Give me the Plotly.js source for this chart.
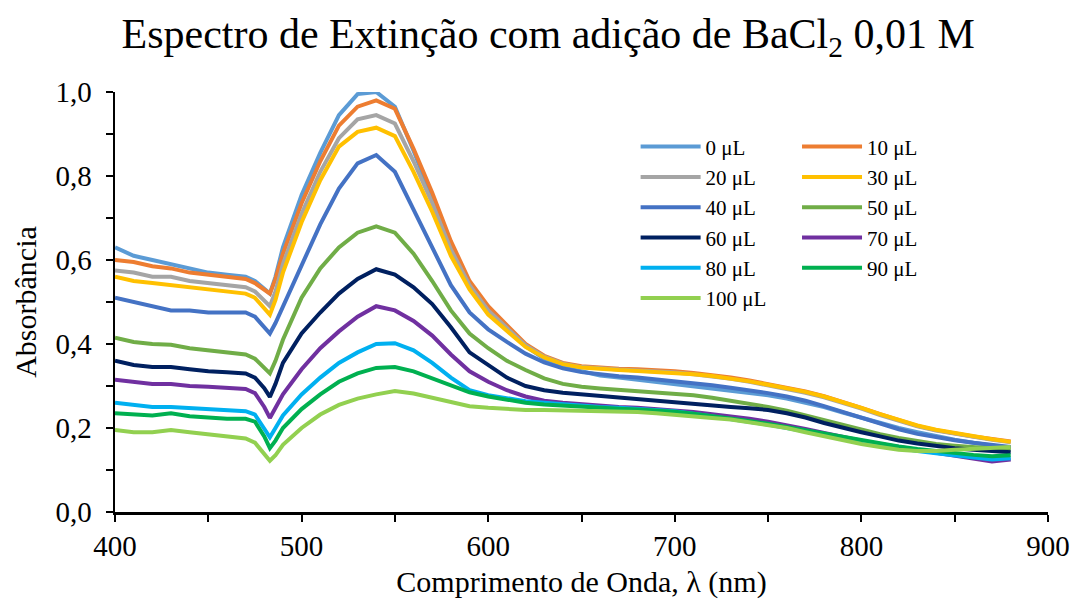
<!DOCTYPE html>
<html>
<head>
<meta charset="utf-8">
<script src="https://cdn.plot.ly/plotly-3.0.1.min.js"></script>
<style>html,body{margin:0;padding:0;background:#fff}#chart{width:1077px;height:605px}</style>
</head>
<body>
<div id="chart"></div>
<script>
// Wavelength (nm)
const wavelength = [400,410,420,430,440,450,460,470,475,480,483,486,490,500,510,520,530,540,550,560,570,580,590,600,610,620,630,640,650,660,670,680,690,700,710,720,730,740,750,760,770,780,790,800,810,820,830,840,850,860,870,880];

const seriesNames = ["0 μL","10 μL","20 μL","30 μL","40 μL","50 μL","60 μL","70 μL","80 μL","90 μL","100 μL"];

const abs0 = [0.63,0.61,0.60,0.59,0.58,0.57,0.565,0.56, 0.55,0.53,0.52,0.56, 0.63,0.755,0.855,0.945,0.995,1.0,0.965,0.86,0.75,0.635,0.545, 0.48,0.435,0.395,0.365,0.345,0.335,0.325,0.32,0.315,0.31,0.305,0.30,0.295,0.29,0.285,0.278,0.27,0.26,0.25,0.237,0.224,0.212,0.2,0.19,0.18,0.172,0.165,0.158,0.152];
const abs10 = [0.60,0.595,0.585,0.58,0.57,0.565,0.56,0.555, 0.545,0.53,0.52,0.555, 0.615,0.735,0.835,0.92,0.965,0.98,0.96,0.865,0.76,0.645,0.55, 0.49,0.445,0.40,0.372,0.355,0.347,0.343,0.341,0.34,0.338,0.335,0.331,0.326,0.32,0.313,0.305,0.296,0.287,0.276,0.263,0.248,0.233,0.218,0.205,0.195,0.187,0.18,0.174,0.168];
const abs20 = [0.575,0.57,0.56,0.56,0.55,0.545,0.54,0.535, 0.525,0.505,0.49,0.525, 0.59,0.71,0.81,0.89,0.935,0.945,0.925,0.835,0.735,0.625,0.54, 0.48,0.437,0.397,0.37,0.353,0.345,0.341,0.339,0.337,0.335,0.332,0.328,0.323,0.317,0.31,0.302,0.293,0.284,0.273,0.26,0.246,0.231,0.217,0.204,0.194,0.186,0.179,0.172,0.166];
const abs30 = [0.56,0.55,0.545,0.54,0.535,0.53,0.525,0.52, 0.51,0.485,0.47,0.505, 0.57,0.69,0.79,0.87,0.905,0.915,0.895,0.81,0.715,0.61,0.53, 0.47,0.43,0.393,0.368,0.352,0.344,0.34,0.338,0.336,0.334,0.331,0.328,0.324,0.318,0.311,0.303,0.295,0.286,0.275,0.262,0.248,0.233,0.219,0.206,0.196,0.188,0.18,0.173,0.167];
const abs40 = [0.51,0.50,0.49,0.48,0.48,0.475,0.475,0.475, 0.465,0.44,0.425,0.45, 0.49,0.59,0.685,0.77,0.83,0.85,0.81,0.72,0.63,0.54,0.475, 0.435,0.405,0.377,0.356,0.342,0.333,0.327,0.323,0.32,0.316,0.312,0.307,0.302,0.296,0.29,0.283,0.275,0.265,0.252,0.238,0.224,0.21,0.197,0.186,0.178,0.171,0.165,0.16,0.155];
const abs50 = [0.415,0.405,0.40,0.398,0.39,0.385,0.38,0.375, 0.365,0.345,0.33,0.36, 0.41,0.51,0.58,0.63,0.665,0.68,0.665,0.615,0.55,0.48,0.425, 0.39,0.36,0.338,0.318,0.305,0.298,0.294,0.291,0.289,0.286,0.283,0.278,0.272,0.265,0.258,0.25,0.241,0.23,0.218,0.206,0.195,0.185,0.176,0.168,0.162,0.158,0.154,0.15,0.148];
const abs60 = [0.36,0.35,0.345,0.345,0.34,0.335,0.333,0.33, 0.32,0.295,0.274,0.305, 0.355,0.425,0.475,0.52,0.555,0.578,0.565,0.535,0.495,0.44,0.38, 0.35,0.32,0.30,0.29,0.284,0.28,0.277,0.274,0.27,0.266,0.262,0.258,0.254,0.25,0.247,0.243,0.235,0.225,0.212,0.2,0.19,0.18,0.17,0.163,0.157,0.152,0.148,0.145,0.142];
const abs70 = [0.315,0.31,0.305,0.305,0.30,0.298,0.295,0.293, 0.283,0.25,0.224,0.25, 0.28,0.34,0.39,0.43,0.465,0.49,0.48,0.455,0.42,0.375,0.335, 0.31,0.29,0.275,0.265,0.26,0.256,0.253,0.25,0.248,0.245,0.242,0.238,0.233,0.228,0.222,0.215,0.207,0.198,0.188,0.178,0.17,0.162,0.155,0.148,0.14,0.135,0.127,0.12,0.125];
const abs80 = [0.26,0.255,0.25,0.25,0.247,0.245,0.243,0.24, 0.232,0.2,0.178,0.2, 0.23,0.28,0.32,0.355,0.38,0.40,0.402,0.385,0.355,0.32,0.29, 0.278,0.27,0.264,0.26,0.256,0.253,0.25,0.248,0.246,0.243,0.24,0.234,0.228,0.222,0.215,0.208,0.2,0.192,0.183,0.175,0.168,0.16,0.152,0.145,0.14,0.135,0.13,0.125,0.128];
const abs90 = [0.235,0.232,0.23,0.235,0.228,0.225,0.222,0.222, 0.215,0.18,0.152,0.17, 0.2,0.245,0.28,0.31,0.33,0.343,0.345,0.335,0.318,0.3,0.285, 0.275,0.267,0.26,0.256,0.253,0.25,0.248,0.246,0.244,0.242,0.239,0.234,0.229,0.223,0.217,0.21,0.202,0.194,0.186,0.178,0.17,0.163,0.156,0.15,0.145,0.14,0.136,0.133,0.135];
const abs100 = [0.195,0.19,0.19,0.195,0.19,0.185,0.182,0.175, 0.165,0.14,0.122,0.135, 0.16,0.2,0.232,0.255,0.27,0.28,0.288,0.282,0.272,0.262,0.252, 0.248,0.245,0.243,0.243,0.242,0.242,0.241,0.24,0.238,0.235,0.232,0.228,0.224,0.22,0.214,0.207,0.2,0.19,0.18,0.17,0.162,0.155,0.148,0.145,0.145,0.148,0.15,0.152,0.155];

const allSeries = [abs0,abs10,abs20,abs30,abs40,abs50,abs60,abs70,abs80,abs90,abs100];
const colors = ["#5B9BD5","#ED7D31","#A5A5A5","#FFC000","#4472C4","#70AD47","#002060","#7030A0","#00B0F0","#00B050","#92D050"];

const xTickVals = [400,450,500,550,600,650,700,750,800,850,900];
const xTickText = ["400","","500","","600","","700","","800","","900"];
const yTickVals = [0,0.1,0.2,0.3,0.4,0.5,0.6,0.7,0.8,0.9,1.0];
const yTickText = ["0,0","","0,2","","0,4","","0,6","","0,8","","1,0"];

const serif = "Liberation Serif";

const traces = allSeries.map((ys, i) => ({
  x: wavelength, y: ys, type: 'scatter', mode: 'lines',
  name: seriesNames[i],
  line: {color: colors[i], width: 4},
  legend: (i % 2 === 0) ? 'legend' : 'legend2'
}));

function legendCfg(xPos) {
  return {
    font: {family: serif, size: 21, color: '#000'},
    bgcolor: 'rgba(0,0,0,0)', borderwidth: 0,
    orientation: 'v', xanchor: 'left', yanchor: 'top',
    tracegroupgap: 0, itemwidth: 60, x: xPos, y: 0.918
  };
}

const layout = {
  width: 1077, height: 605,
  font: {family: serif, color: '#000'},
  margin: {l: 115, r: 29, t: 92, b: 93},
  paper_bgcolor: '#fff', plot_bgcolor: '#fff',
  title: {text: 'Espectro de Extinção com adição de BaCl<sub>2</sub> 0,01 M',
    font: {family: serif, size: 42, color: '#000'},
    x: 0.509, xanchor: 'center', y: 0.945, yanchor: 'middle'},
  xaxis: {range: [400, 900], showgrid: false, zeroline: false,
    showline: true, linecolor: '#000', linewidth: 2.5,
    ticks: 'outside', ticklen: 7, tickwidth: 2, tickcolor: '#000',
    tickmode: 'array', tickvals: xTickVals, ticktext: xTickText,
    tickfont: {family: serif, size: 29, color: '#000'},
    title: {text: 'Comprimento de Onda, λ (nm)', font: {family: serif, size: 30, color: '#000'}, standoff: 10}},
  yaxis: {range: [0, 1.0], showgrid: false, zeroline: false,
    showline: true, linecolor: '#000', linewidth: 2.5,
    ticks: 'outside', ticklen: 7, tickwidth: 2, tickcolor: '#000',
    tickmode: 'array', tickvals: yTickVals, ticktext: yTickText,
    ticklabelstandoff: 8,
    tickfont: {family: serif, size: 29, color: '#000'},
    title: {text: 'Absorbância', font: {family: serif, size: 30, color: '#000'}, standoff: 10}},
  legend: legendCfg(0.558),
  legend2: legendCfg(0.731),
  showlegend: true
};

Plotly.newPlot('chart', traces, layout, {displayModeBar: false, staticPlot: true});
</script>
</body>
</html>
